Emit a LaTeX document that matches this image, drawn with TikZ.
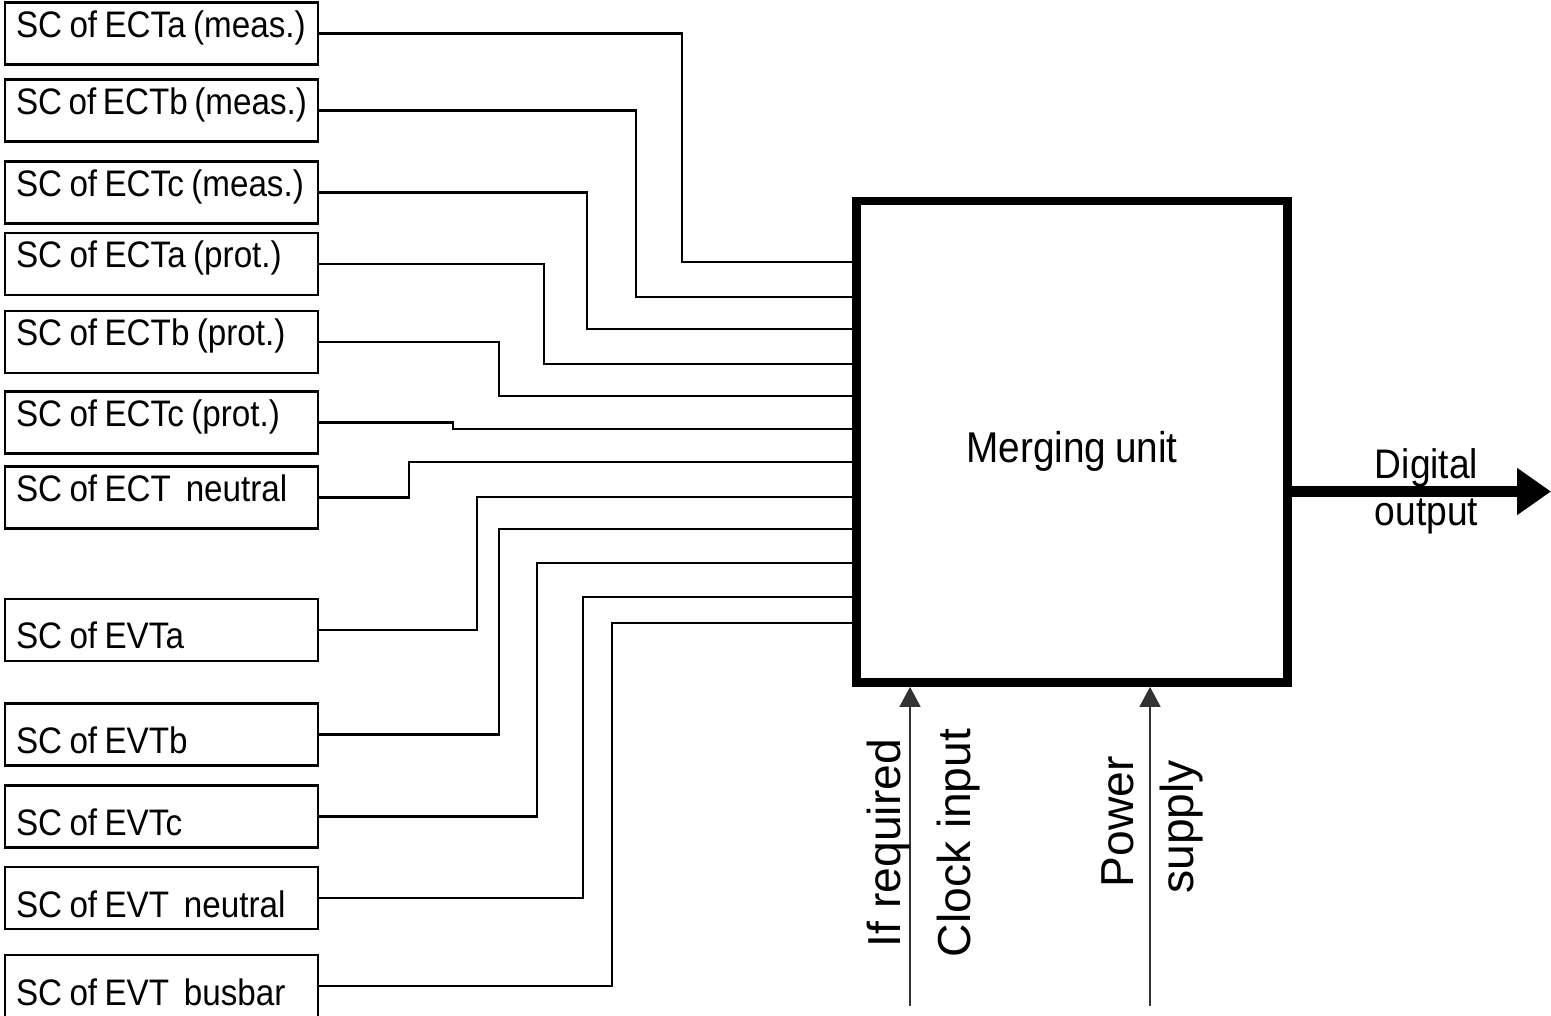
\documentclass[tikz,border=0pt]{standalone}
\usepackage{fontspec}
\setmainfont{Liberation Sans}[FakeStretch=0.9, WordSpace=0.8]
\newfontfamily\widefont{Liberation Sans}
\usetikzlibrary{arrows.meta}

\tikzset{
  scbox/.style={draw, line width=1.5pt, inner xsep=0.22cm, inner ysep=0pt,
    text width=5.82cm, align=flush left, text height=0.70cm, text depth=0.54cm,
    font=\fontsize{21}{25}\selectfont},
  scboxlow/.style={scbox, text height=1.0cm, text depth=0.24cm},
  wire/.style={line width=1.2pt},
  feed/.style={line width=0.9pt, black!80, -{Triangle[length=0.4cm,width=0.42cm]}},
  rotlabel/.style={rotate=90, anchor=base, inner sep=0pt,
    font=\widefont\fontsize{26.3}{30}\selectfont}
}

\begin{document}
\begin{tikzpicture}[x=0.02cm, y=-0.02cm]
    \useasboundingbox (0,0) rectangle (1551,1016);

    % secondary converters
    \node[scbox] (ecta-m) at (161.5, 33.5) {SC of ECTa (meas.)};
    \node[scbox] (ectb-m) at (161.5,110.5) {SC of ECTb (meas.)};
    \node[scbox] (ectc-m) at (161.5,192.5) {SC of ECTc (meas.)};
    \node[scbox] (ecta-p) at (161.5,264)   {SC of ECTa (prot.)};
    \node[scbox] (ectb-p) at (161.5,342)   {SC of ECTb (prot.)};
    \node[scbox] (ectc-p) at (161.5,422.5) {SC of ECTc (prot.)};
    \node[scbox] (ect-n)  at (161.5,497.5) {SC of ECT~ neutral};
    \node[scboxlow] (evta)  at (161.5,630)   {SC of EVTa};
    \node[scboxlow] (evtb)  at (161.5,734.5) {SC of EVTb};
    \node[scboxlow] (evtc)  at (161.5,816.5) {SC of EVTc};
    \node[scboxlow] (evt-n) at (161.5,898)   {SC of EVT~ neutral};
    \node[scboxlow] (evt-b) at (161.5,986)   {SC of EVT~ busbar};

    \node[draw, line width=5pt, minimum width=8.62cm, minimum height=9.63cm,
          inner sep=0pt, text height=1.05cm, text depth=0.2cm,
          font=\fontsize{24.5}{28}\selectfont] (mu) at (1072,441.75) {Merging unit};

    \draw[wire] (ecta-m.east) -| (682,262) -- (mu.west |- 0,262);
    \draw[wire] (ectb-m.east) -| (636,297) -- (mu.west |- 0,297);
    \draw[wire] (ectc-m.east) -| (587,329) -- (mu.west |- 0,329);
    \draw[wire] (ecta-p.east) -| (544,364) -- (mu.west |- 0,364);
    \draw[wire] (ectb-p.east) -| (499,396) -- (mu.west |- 0,396);
    \draw[wire] (ectc-p.east) -| (453,429) -- (mu.west |- 0,429);
    \draw[wire] (ect-n.east)  -| (409,462) -- (mu.west |- 0,462);
    \draw[wire] (evta.east)   -| (477,497) -- (mu.west |- 0,497);
    \draw[wire] (evtb.east)   -| (499,529) -- (mu.west |- 0,529);
    \draw[wire] (evtc.east)   -| (537,563) -- (mu.west |- 0,563);
    \draw[wire] (evt-n.east)  -| (583,597) -- (mu.west |- 0,597);
    \draw[wire] (evt-b.east)  -| (612,623) -- (mu.west |- 0,623);

    % output and supplies
    \coordinate (dout) at (1551,491.5);
    \draw[line width=0.22cm, -{Triangle[length=0.68cm,width=0.9cm]}] (mu.east |- dout) --
          node[pos=0.52, align=left, font=\fontsize{23.5}{27}\selectfont] (doutlbl) {Digital\\output} (dout);

    \coordinate (clk) at (910,1006);
    \coordinate (pwr) at (1150,1006);
    \draw[feed] (clk) -- (clk |- mu.south);
    \draw[feed] (pwr) -- (pwr |- mu.south);

    \node[rotlabel] (ifreq) at (900,843)  {If required};
    \node[rotlabel] (clkin) at (970,843)  {Clock input};
    \node[rotlabel] (pow)   at (1133,822) {Power};
    \node[rotlabel] (sup)   at (1193,827) {supply};
\end{tikzpicture}
\end{document}
